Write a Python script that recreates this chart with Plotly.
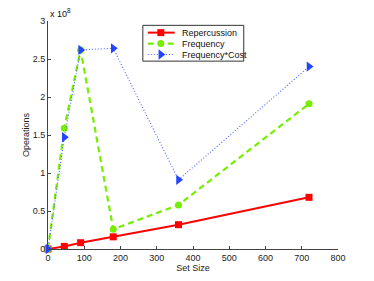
import plotly.graph_objects as go

set_size = [0, 45, 90, 180, 360, 720]
repercussion = [0.0, 0.034, 0.083, 0.16, 0.32, 0.68]   # x 1e8
frequency = [0.0, 1.59, 2.62, 0.26, 0.58, 1.91]        # x 1e8
freq_cost = [0.0, 1.47, 2.62, 2.64, 0.91, 2.40]        # x 1e8
series_names = ["Repercussion", "Frequency", "Frequency*Cost"]

x_ticks = [0, 100, 200, 300, 400, 500, 600, 700, 800]
y_ticks = [0, 0.5, 1, 1.5, 2, 2.5, 3]
y_ticklabels = ["0", "0.5", "1", "1.5", "2", "2.5", "3"]

styles = [
    dict(line=dict(color="#ff0000", width=2),
         marker=dict(symbol="square", size=7, color="#ff0000")),
    dict(line=dict(color="#77ee00", width=2.2, dash="6px,4px"),
         marker=dict(symbol="circle", size=7, color="#77ee00")),
    dict(line=dict(color="#4d63ff", width=1.1, dash="1px,2px"),
         marker=dict(symbol="triangle-right", size=9, color="#2244ff")),
]

fig = go.Figure()
for name, ys, st in zip(series_names, [repercussion, frequency, freq_cost], styles):
    fig.add_trace(go.Scatter(x=set_size, y=ys, name=name, mode="lines+markers",
                             line=st["line"], marker=st["marker"], cliponaxis=False,
                             showlegend=False))

# custom compact legend (MATLAB style) in paper coordinates via overlay axes
box = dict(x0=0.327, x1=0.675, y0=0.824, y1=0.981)
rows_y = [0.949, 0.901, 0.853]
lx0, lx1, lmx, ltx = 0.344, 0.437, 0.389, 0.454
shapes = [dict(type="rect", xref="paper", yref="paper", **box,
               line=dict(color="#333", width=1), fillcolor="white", layer="below")]
annotations = []
for name, ry, st in zip(series_names, rows_y, styles):
    shapes.append(dict(type="line", xref="paper", yref="paper", x0=lx0, x1=lx1, y0=ry, y1=ry,
                       line=dict(color=st["line"]["color"], width=st["line"]["width"],
                                 dash=st["line"].get("dash", "solid")), layer="below"))
    fig.add_trace(go.Scatter(x=[lmx], y=[ry], xaxis="x2", yaxis="y2", mode="markers",
                             marker=st["marker"], showlegend=False, hoverinfo="skip",
                             cliponaxis=False))
    annotations.append(dict(text=name, xref="paper", yref="paper", x=ltx, y=ry,
                            xanchor="left", yanchor="middle", showarrow=False,
                            font=dict(size=9, color="#111")))

annotations.append(dict(text="x 10<sup>8</sup>", xref="paper", yref="paper", x=0, y=1,
                        xanchor="left", yanchor="bottom", showarrow=False,
                        font=dict(size=9, color="#111"), yshift=0))

# page body has an 8px default margin; size/margins compensate for it
fig.update_layout(
    width=366, height=273,
    margin=dict(l=40, r=35.5, t=13, b=31.7, autoexpand=False),
    paper_bgcolor="white", plot_bgcolor="white",
    font=dict(family="Liberation Sans, Arial, sans-serif", size=9, color="#222"),
    showlegend=False,
    xaxis=dict(range=[0, 800], tickvals=x_ticks, ticks="inside", ticklen=3,
               showline=True, linecolor="#444", linewidth=1, showgrid=False, zeroline=False,
               automargin=False, title=dict(text="Set Size", font=dict(size=9), standoff=1)),
    yaxis=dict(range=[0, 3], tickvals=y_ticks, ticktext=y_ticklabels, ticks="inside", ticklen=3,
               showline=True, linecolor="#444", linewidth=1, showgrid=False, zeroline=False,
               automargin=False, title=dict(text="Operations", font=dict(size=9), standoff=1)),
    xaxis2=dict(range=[0, 1], overlaying="x", visible=False, fixedrange=True),
    yaxis2=dict(range=[0, 1], overlaying="y", visible=False, fixedrange=True),
    shapes=shapes,
    annotations=annotations,
)
fig.write_html("out.html")
